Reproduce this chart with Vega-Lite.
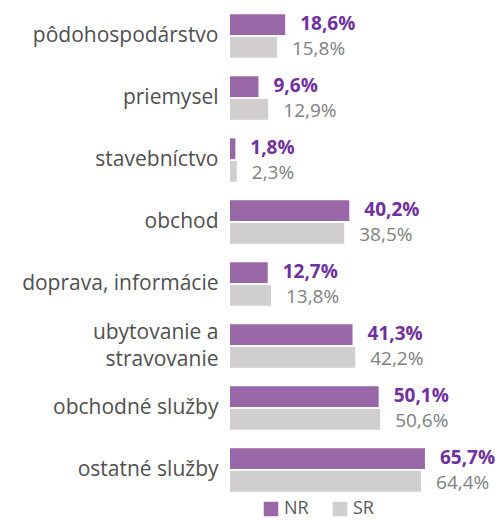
{
  "$schema": "https://vega.github.io/schema/vega-lite/v6.json",
  "width": 270,
  "height": 496,
  "autosize": "none",
  "padding": {"left": 230, "top": 5, "right": 2, "bottom": 19},
  "config": {
    "view": {"stroke": null},
    "font": "Open Sans",
    "locale": {"number": {"decimal": ",", "thousands": " ", "grouping": [3], "currency": ["", " €"], "percent": "%"}}
  },
  "data": {"values": [
    {"cat": "pôdohospodárstvo", "s": "NR", "v": 0.186},
    {"cat": "pôdohospodárstvo", "s": "SR", "v": 0.158},
    {"cat": "priemysel", "s": "NR", "v": 0.096},
    {"cat": "priemysel", "s": "SR", "v": 0.129},
    {"cat": "stavebníctvo", "s": "NR", "v": 0.018},
    {"cat": "stavebníctvo", "s": "SR", "v": 0.023},
    {"cat": "obchod", "s": "NR", "v": 0.402},
    {"cat": "obchod", "s": "SR", "v": 0.385},
    {"cat": "doprava, informácie", "s": "NR", "v": 0.127},
    {"cat": "doprava, informácie", "s": "SR", "v": 0.138},
    {"cat": "ubytovanie a |stravovanie", "s": "NR", "v": 0.413},
    {"cat": "ubytovanie a |stravovanie", "s": "SR", "v": 0.422},
    {"cat": "obchodné služby", "s": "NR", "v": 0.501},
    {"cat": "obchodné služby", "s": "SR", "v": 0.506},
    {"cat": "ostatné služby", "s": "NR", "v": 0.657},
    {"cat": "ostatné služby", "s": "SR", "v": 0.644}
  ]},
  "encoding": {
    "y": {"field": "cat", "type": "nominal", "sort": null,
      "scale": {"paddingInner": 0.3, "paddingOuter": 0.15},
      "axis": {"title": null, "domain": false, "ticks": false, "labelFontSize": 21, "labelFontWeight": "normal", "labelColor": "#505050", "labelPadding": 12, "labelLimit": 230, "labelExpr": "split(datum.value, '|')", "labelLineHeight": 27,
        "labelOffset": {"condition": {"test": "indexof(datum.value, '|') >= 0", "value": -13}, "value": 0}}},
    "yOffset": {"field": "s", "type": "nominal", "scale": {"paddingInner": 0.08}},
    "x": {"field": "v", "type": "quantitative", "scale": {"domain": [0, 0.91]}, "axis": null}
  },
  "layer": [
    {"mark": {"type": "bar"},
     "encoding": {"color": {"field": "s", "type": "nominal",
       "scale": {"domain": ["NR", "SR"], "range": ["#9966A8", "#D0CECE"]},
       "legend": {"title": null, "orient": "none", "direction": "horizontal", "legendX": 32, "legendY": 495, "symbolType": "square", "symbolSize": 210, "symbolOpacity": 1, "labelFontSize": 18, "labelFontWeight": "normal", "labelColor": "#595959", "columnPadding": 22, "labelOffset": 4, "symbolStrokeWidth": 0}}}},
    {"transform": [{"filter": "datum.s == 'NR'"}],
     "mark": {"type": "text", "align": "left", "baseline": "middle", "dx": 15, "dy": -1, "fontSize": 19, "fontWeight": "bold", "color": "#7030A0"},
     "encoding": {"text": {"field": "v", "type": "quantitative", "format": ".1%"}}},
    {"transform": [{"filter": "datum.s == 'SR'"}],
     "mark": {"type": "text", "align": "left", "baseline": "middle", "dx": 15, "dy": 2, "fontSize": 19, "color": "#808080"},
     "encoding": {"text": {"field": "v", "type": "quantitative", "format": ".1%"}}}
  ]
}
